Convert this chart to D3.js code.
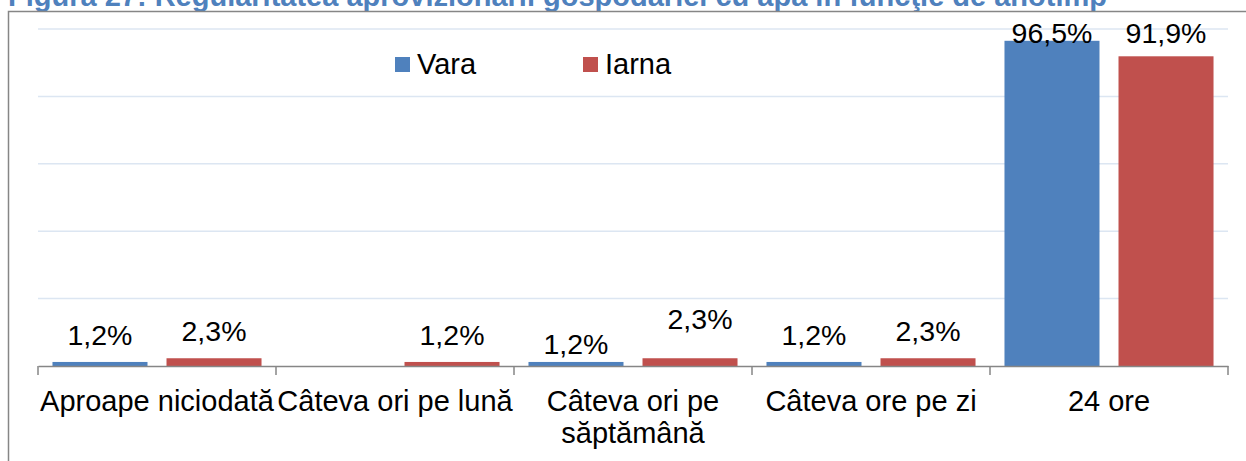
<!DOCTYPE html>
<html>
<head>
<meta charset="utf-8">
<script src="https://cdn.jsdelivr.net/npm/d3@7"></script>
<style>
  body { margin: 0; background: #fff; }
  svg { display: block; font-family: "Liberation Sans", Arial, sans-serif; }
</style>
</head>
<body>
<div id="wrapper"></div>
<script>
const title = "Figura 27: Regularitatea aprovizionării gospodăriei cu apă în funcţie de anotimp";
const categories = ["Aproape niciodată", "Câteva ori pe lună", "Câteva ori pe săptămână", "Câteva ore pe zi", "24 ore"];
const seriesNames = ["Vara", "Iarna"];
const vara = [1.2, null, 1.2, 1.2, 96.5];
const iarna = [2.3, 1.2, 2.3, 2.3, 91.9];
const gridTicks = [20, 40, 60, 80, 100];

// labels that were dragged by hand in the original chart: [dx, dy]
const labelNudge = { "2-0": [0, 9], "2-1": [10, -12] };

function drawBarChart() {
  const colors = { Vara: "#4f81bd", Iarna: "#c0504d" };
  const seriesValues = { Vara: vara, Iarna: iarna };

  let dimensions = {
    width: 1246,
    height: 461,
    margin: { top: 29, right: 18, bottom: 95, left: 38 },
  };
  dimensions.boundedWidth = dimensions.width - dimensions.margin.left - dimensions.margin.right;
  dimensions.boundedHeight = 366 - dimensions.margin.top;

  const wrapper = d3.select("#wrapper").append("svg")
    .attr("width", dimensions.width)
    .attr("height", dimensions.height);

  // title, clipped at the top like the screenshot
  wrapper.append("text")
    .attr("x", 8)
    .attr("y", 6)
    .attr("fill", "#4f81bd")
    .attr("font-weight", "bold")
    .attr("font-size", 29)
    .text(title);

  // chart frame (runs off the right and bottom)
  wrapper.append("rect")
    .attr("x", 8.5).attr("y", 11.5)
    .attr("width", 1300).attr("height", 500)
    .attr("fill", "none")
    .attr("stroke", "#868686")
    .attr("stroke-width", 1.5);

  const bounds = wrapper.append("g")
    .attr("transform", `translate(${dimensions.margin.left},${dimensions.margin.top})`);

  const yScale = d3.scaleLinear().domain([0, 100]).range([dimensions.boundedHeight, 0]);
  const xScale = d3.scaleBand().domain(categories).range([0, dimensions.boundedWidth]).padding(0);
  const x1Scale = d3.scaleBand().domain(seriesNames).range([0, xScale.bandwidth()])
    .paddingInner(0.1667).paddingOuter(0.127);

  // gridlines
  bounds.append("g").selectAll("line")
    .data(gridTicks)
    .join("line")
      .attr("x1", 0)
      .attr("x2", dimensions.boundedWidth)
      .attr("y1", d => yScale(d))
      .attr("y2", d => yScale(d))
      .attr("stroke", "#dce6f2")
      .attr("stroke-width", 1.5);

  const bars = [];
  categories.forEach((c, i) => {
    seriesNames.forEach((s, j) => {
      const v = seriesValues[s][i];
      if (v != null) bars.push({ cat: c, series: s, value: v, key: `${i}-${j}` });
    });
  });

  bounds.append("g").selectAll("rect")
    .data(bars)
    .join("rect")
      .attr("x", d => xScale(d.cat) + x1Scale(d.series))
      .attr("y", d => yScale(d.value))
      .attr("width", x1Scale.bandwidth())
      .attr("height", d => yScale(0) - yScale(d.value))
      .attr("fill", d => colors[d.series]);

  const fmt = d => d3.format(".1f")(d).replace(".", ",") + "%";

  bounds.append("g").selectAll("text")
    .data(bars)
    .join("text")
      .attr("x", d => xScale(d.cat) + x1Scale(d.series) + x1Scale.bandwidth() / 2 + (labelNudge[d.key] ? labelNudge[d.key][0] : 0))
      .attr("y", d => Math.max(yScale(100) + 14, yScale(d.value) - 17) + (labelNudge[d.key] ? labelNudge[d.key][1] : 0))
      .attr("text-anchor", "middle")
      .attr("font-size", 28.5)
      .attr("fill", "#000")
      .text(d => fmt(d.value));

  // x axis
  const xAxisGenerator = d3.axisBottom(xScale).tickSize(0).tickFormat("");
  const xAxis = bounds.append("g")
    .attr("transform", `translate(0,${dimensions.boundedHeight})`)
    .call(xAxisGenerator);
  xAxis.select(".domain").attr("stroke", "#868686").attr("stroke-width", 1.5);

  const boundaries = categories.map(c => xScale(c)).concat([dimensions.boundedWidth]);
  xAxis.append("g").selectAll("line")
    .data(boundaries)
    .join("line")
      .attr("x1", d => d).attr("x2", d => d)
      .attr("y1", 0).attr("y2", 9)
      .attr("stroke", "#868686")
      .attr("stroke-width", 1.5);

  const catLabels = xAxis.append("g").selectAll("text")
    .data(categories)
    .join("text")
      .attr("x", d => xScale(d) + xScale.bandwidth() / 2)
      .attr("y", 44.5)
      .attr("text-anchor", "middle")
      .attr("font-size", 29)
      .attr("fill", "#000")
      .text(d => d);

  catLabels.each(function(d) {
    const text = d3.select(this);
    if (this.getComputedTextLength() <= xScale.bandwidth() + 4) return;
    const words = d.split(" ");
    const x = text.attr("x");
    text.text(null);
    let line = [];
    let lineNo = 0;
    let tspan = text.append("tspan").attr("x", x).attr("dy", 0);
    words.forEach(w => {
      line.push(w);
      tspan.text(line.join(" "));
      if (tspan.node().getComputedTextLength() > xScale.bandwidth() && line.length > 1) {
        line.pop();
        tspan.text(line.join(" "));
        line = [w];
        lineNo++;
        tspan = text.append("tspan").attr("x", x).attr("dy", 32).text(w);
      }
    });
  });

  // legend
  const legendPos = [395, 583];
  const legend = wrapper.append("g").selectAll("g")
    .data(seriesNames)
    .join("g")
      .attr("transform", (d, i) => `translate(${legendPos[i]},57)`);
  legend.append("rect")
    .attr("width", 15).attr("height", 15)
    .attr("fill", d => colors[d]);
  legend.append("text")
    .attr("x", 22).attr("y", 17)
    .attr("font-size", 29)
    .attr("fill", "#000")
    .text(d => d);
}

drawBarChart();
</script>
</body>
</html>
